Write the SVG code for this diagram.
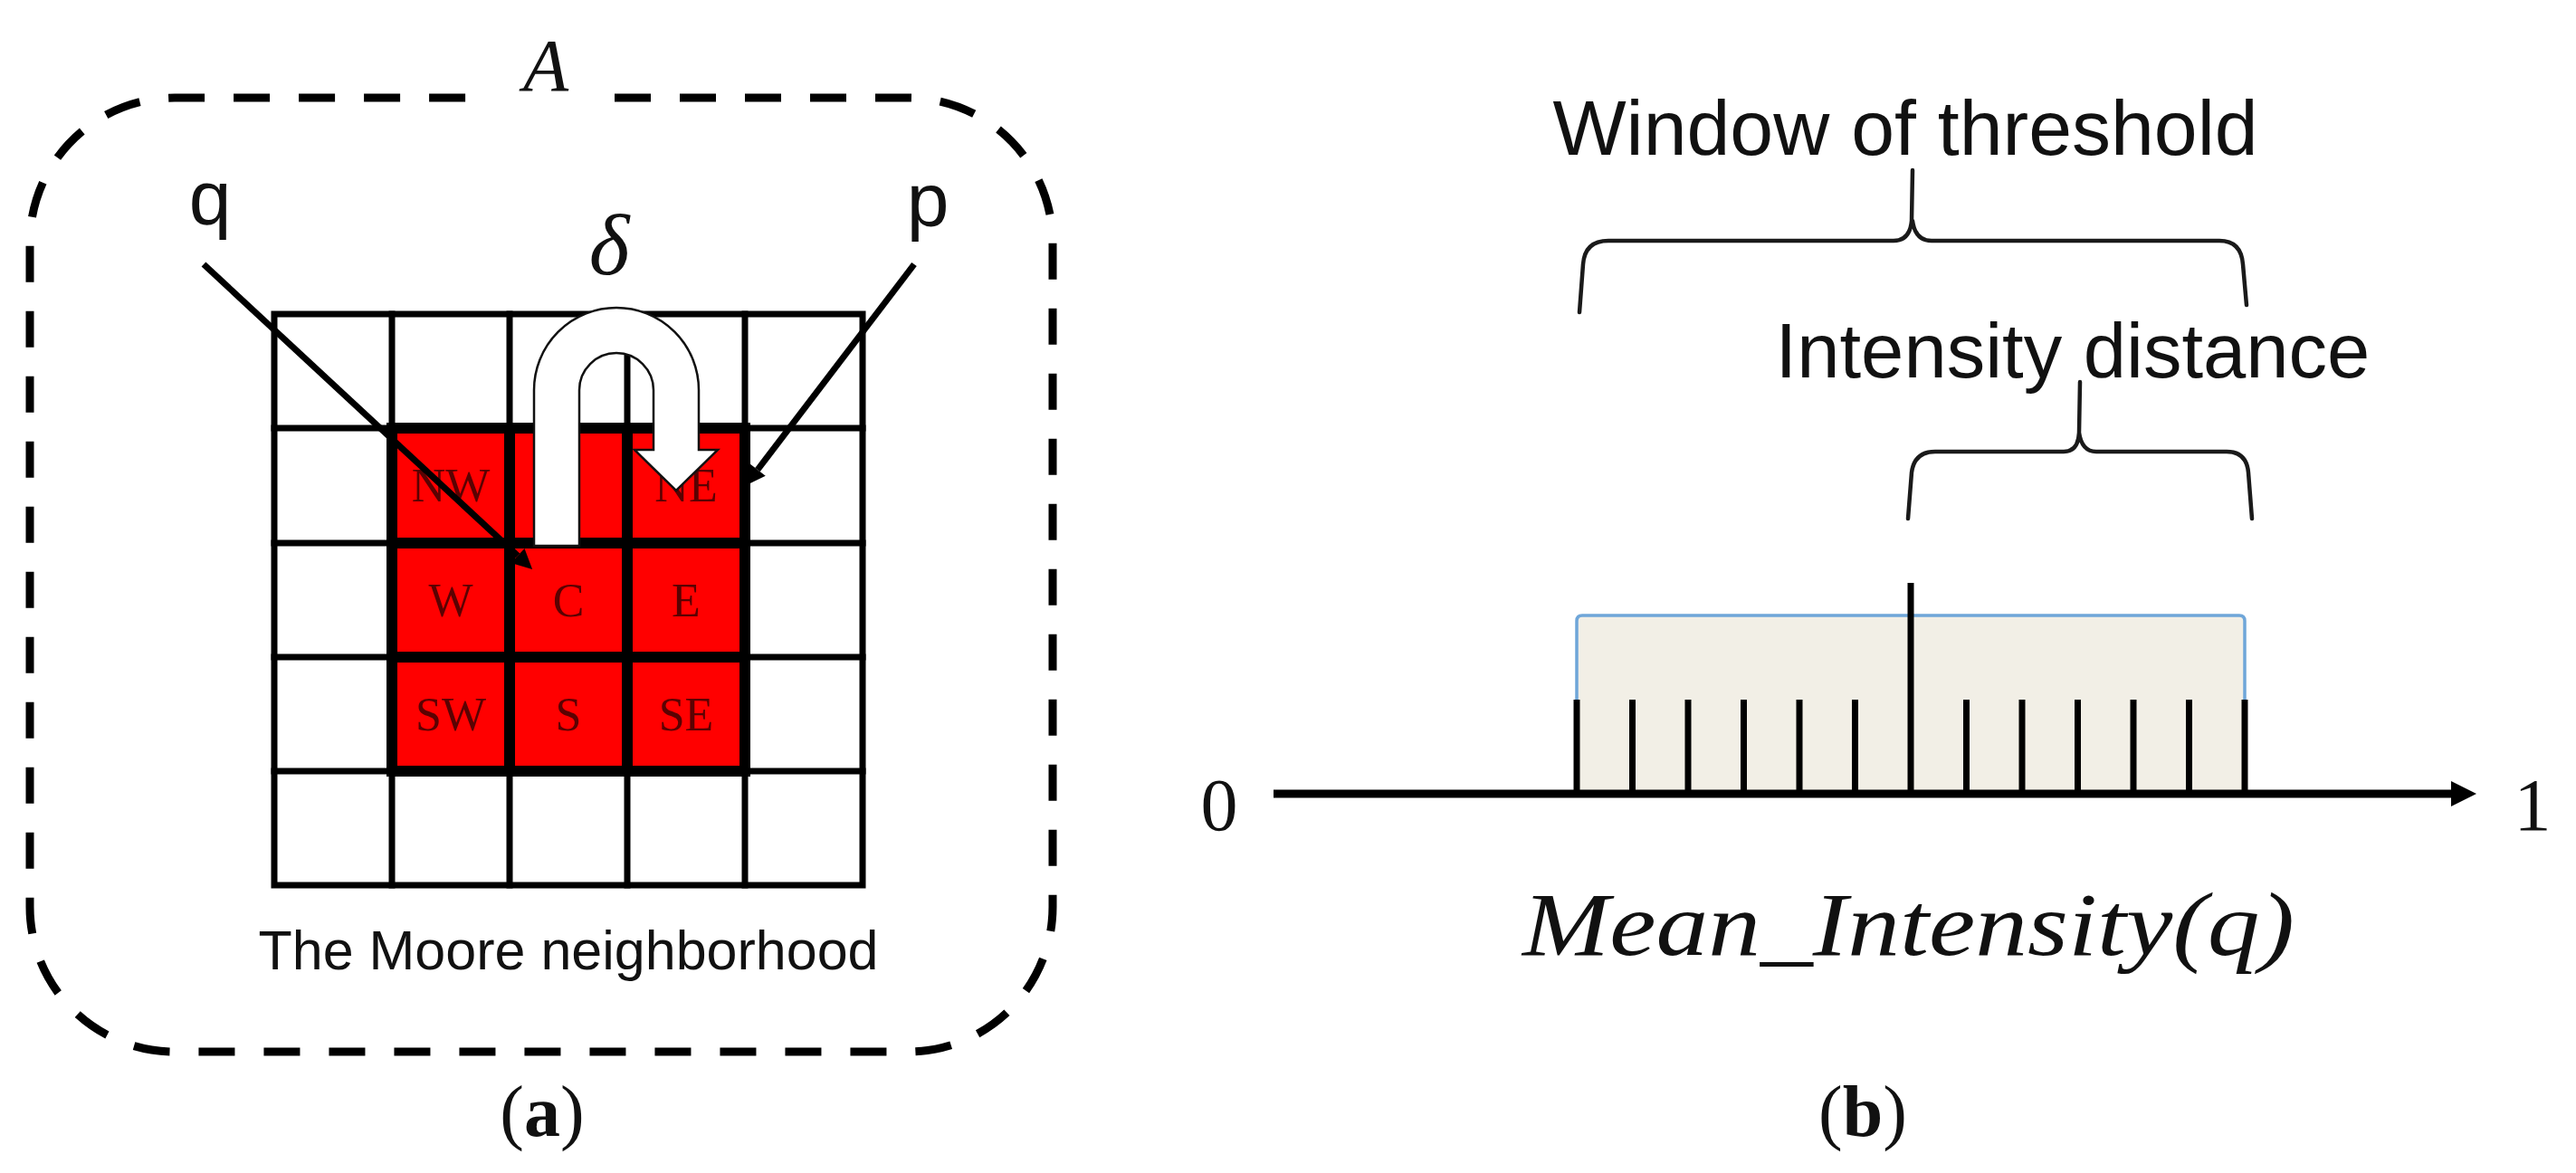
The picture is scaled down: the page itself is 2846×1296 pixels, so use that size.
<svg xmlns="http://www.w3.org/2000/svg" width="2846" height="1296" viewBox="0 0 2846 1296">
  <style>
    .thin { stroke: #000; stroke-width: 7; fill: none; stroke-linecap: square; }
    .thick { stroke: #000; stroke-width: 12; fill: none; stroke-linecap: square; }
    .cell { font-family: "Liberation Serif", "Times New Roman", serif; font-size: 52px; fill: #5a0202; text-anchor: middle; }
    .sans { font-family: "Liberation Sans", Arial, sans-serif; fill: #111; }
    .serif { font-family: "Liberation Serif", "Times New Roman", serif; fill: #111; }
    .brace { stroke: #1a1a1a; stroke-width: 4.5; fill: none; stroke-linecap: round; stroke-linejoin: round; }
    .tick { stroke: #000; stroke-width: 7; }
  </style>
  <defs>
    <marker id="arrowSmall" viewBox="0 0 10 10" refX="0" refY="5" markerUnits="userSpaceOnUse" markerWidth="26" markerHeight="22" orient="auto">
      <path d="M0,0 L10,5 L0,10 Z" fill="#000"/>
    </marker>
    <marker id="arrowAxis" viewBox="0 0 10 10" refX="0" refY="5" markerUnits="userSpaceOnUse" markerWidth="28" markerHeight="34" orient="auto">
      <path d="M0,0 L10,5 L0,10 Z" fill="#000"/>
    </marker>
  </defs>
  <rect x="0" y="0" width="2846" height="1296" fill="#fff"/>

  <!-- Panel (a) -->
  <g id="frame-A">
    <path d="M679,108 L1003,108 A160,160 0 0 1 1163,268 L1163,1002 A160,160 0 0 1 1003,1162 L193,1162 A160,160 0 0 1 33,1002 L33,268 A160,160 0 0 1 193,108 L536,108" fill="none" stroke="#000" stroke-width="9" stroke-dasharray="40 32"/>
    <text x="603" y="100" class="serif" font-style="italic" font-size="82" text-anchor="middle">A</text>
  </g>

  <g id="moore-grid">
    <rect x="433" y="473" width="390" height="379" fill="#ff0000"/>
    <g class="thin">
      <rect x="303" y="347" width="650" height="631"/>
      <line x1="433" y1="347" x2="433" y2="978"/>
      <line x1="563" y1="347" x2="563" y2="978"/>
      <line x1="693" y1="347" x2="693" y2="978"/>
      <line x1="823" y1="347" x2="823" y2="978"/>
      <line x1="303" y1="473" x2="953" y2="473"/>
      <line x1="303" y1="600" x2="953" y2="600"/>
      <line x1="303" y1="726" x2="953" y2="726"/>
      <line x1="303" y1="852" x2="953" y2="852"/>
    </g>
    <g class="thick">
      <rect x="433" y="473" width="390" height="379"/>
      <line x1="563" y1="473" x2="563" y2="852"/>
      <line x1="693" y1="473" x2="693" y2="852"/>
      <line x1="433" y1="600" x2="823" y2="600"/>
      <line x1="433" y1="726" x2="823" y2="726"/>
    </g>
  </g>

  <g id="cell-labels">
    <text x="498" y="554" class="cell">NW</text>
    <text x="758" y="554" class="cell">NE</text>
    <text x="498" y="681" class="cell">W</text>
    <text x="628" y="681" class="cell">C</text>
    <text x="758" y="681" class="cell">E</text>
    <text x="498" y="807" class="cell">SW</text>
    <text x="628" y="807" class="cell">S</text>
    <text x="758" y="807" class="cell">SE</text>
  </g>

  <g id="connectors">
    <line x1="225" y1="292" x2="572" y2="614" stroke="#000" stroke-width="7" marker-end="url(#arrowSmall)"/>
    <line x1="1010" y1="292" x2="837" y2="519" stroke="#000" stroke-width="7" marker-end="url(#arrowSmall)"/>
  </g>

  <g id="label-q">
    <text x="232" y="248" class="sans" font-size="84" text-anchor="middle">q</text>
  </g>
  <g id="label-p">
    <text x="1025" y="250" class="sans" font-size="84" text-anchor="middle">p</text>
  </g>

  <g id="uturn">
    <path d="M590,603 L590,431 A91,91 0 0 1 772,431 L772,497 L793,497 L747,542 L701,497 L722,497 L722,431 A41,41 0 0 0 640,431 L640,603 Z" fill="#fff" stroke="#111" stroke-width="2.5" stroke-linejoin="miter"/>
    <text x="673" y="303" class="serif" font-style="italic" font-size="96" text-anchor="middle" fill="#333">δ</text>
  </g>

  <g id="caption-moore">
    <text x="628" y="1071" class="sans" font-size="61" text-anchor="middle">The Moore neighborhood</text>
  </g>
  <g id="caption-a">
    <text x="599" y="1255" class="serif" font-size="80" text-anchor="middle">(<tspan font-weight="bold">a</tspan>)</text>
  </g>

  <!-- Panel (b) -->
  <g id="window-label">
    <text x="2105" y="171" class="sans" font-size="86" text-anchor="middle">Window of threshold</text>
    <path class="brace" d="M1745,345 L1749,292 Q1751,266 1777,266 L2092,266 Q2110,266 2112,244 L2113,188 M2113,244 Q2116,266 2134,266 L2452,266 Q2476,266 2478,292 L2482,337"/>
  </g>
  <g id="distance-label">
    <text x="2290" y="417" class="sans" font-size="85" text-anchor="middle">Intensity distance</text>
    <path class="brace" d="M2108,573 L2112,522 Q2115,499 2138,499 L2280,499 Q2296,499 2297,478 L2298,422 M2297,478 Q2300,499 2316,499 L2460,499 Q2482,499 2484,522 L2488,573"/>
  </g>

  <g id="window-box">
    <path d="M1742,877 L1742,686 Q1742,680 1748,680 L2474,680 Q2480,680 2480,686 L2480,877 Z" fill="#f2efe6" stroke="#6fa6d9" stroke-width="3.5"/>
  </g>

  <g id="ticks">
    <line class="tick" x1="1742" y1="773" x2="1742" y2="877"/>
    <line class="tick" x1="1803.5" y1="773" x2="1803.5" y2="877"/>
    <line class="tick" x1="1865" y1="773" x2="1865" y2="877"/>
    <line class="tick" x1="1926.5" y1="773" x2="1926.5" y2="877"/>
    <line class="tick" x1="1988" y1="773" x2="1988" y2="877"/>
    <line class="tick" x1="2049.5" y1="773" x2="2049.5" y2="877"/>
    <line class="tick" x1="2111" y1="644" x2="2111" y2="877"/>
    <line class="tick" x1="2172.5" y1="773" x2="2172.5" y2="877"/>
    <line class="tick" x1="2234" y1="773" x2="2234" y2="877"/>
    <line class="tick" x1="2295.5" y1="773" x2="2295.5" y2="877"/>
    <line class="tick" x1="2357" y1="773" x2="2357" y2="877"/>
    <line class="tick" x1="2418.5" y1="773" x2="2418.5" y2="877"/>
    <line class="tick" x1="2480" y1="773" x2="2480" y2="877"/>
  </g>

  <g id="axis">
    <line x1="1407" y1="877" x2="2708" y2="877" stroke="#000" stroke-width="9" marker-end="url(#arrowAxis)"/>
    <text x="1347" y="917" class="serif" font-size="82" text-anchor="middle">0</text>
    <text x="2798" y="917" class="serif" font-size="82" text-anchor="middle">1</text>
  </g>

  <g id="axis-title">
    <text x="1682" y="1055" class="serif" font-style="italic" font-size="100" fill="#262626" textLength="853" lengthAdjust="spacingAndGlyphs">Mean_Intensity(q)</text>
  </g>
  <g id="caption-b">
    <text x="2058" y="1255" class="serif" font-size="80" text-anchor="middle">(<tspan font-weight="bold">b</tspan>)</text>
  </g>
</svg>
